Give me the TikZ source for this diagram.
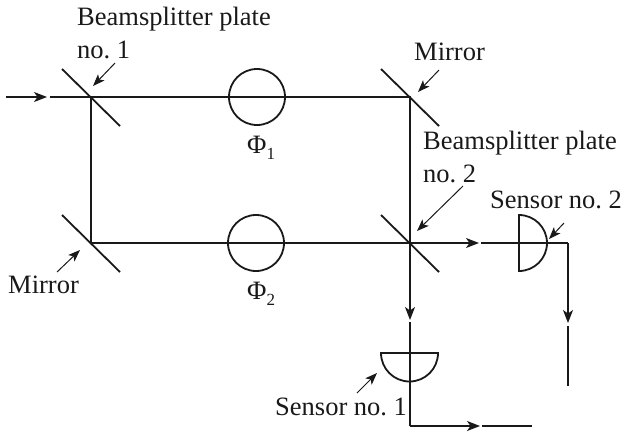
\documentclass[tikz,border=0pt]{standalone}
\usepackage{fontspec}
\setmainfont{Liberation Serif}
\usetikzlibrary{arrows.meta,calc}
\newcommand{\phisub}[1]{\raisebox{-6pt}{\fontsize{17}{18}\selectfont #1}}
\tikzset{
  beam/.style={line width=1.15pt,color=black!90},
  plate/.style={line width=1.8pt,color=black!90},
  beamtip/.style={-{Stealth[length=13pt,width=10pt,inset=3.5pt]}},
  leader/.style={line width=1pt,color=black!90,-{Stealth[length=12pt,width=9pt,inset=3pt]}},
  phase/.style={circle,draw,line width=1.8pt,color=black!90,minimum size=56pt,inner sep=0pt},
  lbl/.style={font=\fontsize{26.5}{28}\selectfont\frenchspacing,inner sep=0pt,anchor=base west,color=black!90}
}
\begin{document}
\begin{tikzpicture}[x=1pt,y=-1pt]
\useasboundingbox (0,0) rectangle (624,432);
% junctions of the two arms
\coordinate (bs1) at (91,97);
\coordinate (m1) at (410,97);
\coordinate (m2) at (91,243);
\coordinate (bs2) at (410,243);
\node[phase] (ph1) at (257,97) {};
\node[phase] (ph2) at (256,243) {};
% input
\coordinate (in0) at (6,97);
\coordinate (in1) at (47,97);
\coordinate (in2) at (50,97);
\draw[beam,beamtip] (in0) -- (in1);
\draw[beam] (in2) -- (bs1) -- (m1) -- (bs2);
\draw[beam] (bs1) -- (m2) -- (bs2);
% plates
\foreach \p in {bs1,m1,m2,bs2}
  \draw[plate] ($(\p)+(-29,-28)$) -- ($(\p)+(29,29)$);
% output to sensor no. 2
\coordinate (o1) at (479,243);
\coordinate (o2) at (481,243);
\coordinate (o3) at (568,243);
\coordinate (o4) at (568,323);
\coordinate (o5) at (568,326);
\coordinate (o6) at (568,386);
\draw[beam,beamtip] (bs2) -- (o1);
\draw[beam] (o2) -- (o3);
\draw[beam,beamtip] (o3) -- (o4);
\draw[beam] (o5) -- (o6);
% output to sensor no. 1
\coordinate (d1) at (410,320);
\coordinate (d2) at (410,322);
\coordinate (d3) at (410,426);
\coordinate (d4) at (480,426);
\coordinate (d5) at (482,426);
\coordinate (d6) at (532,426);
\draw[beam,beamtip] (bs2) -- (d1);
\draw[beam] (d2) -- (d3);
\draw[beam,beamtip] (d3) -- (d4);
\draw[beam] (d5) -- (d6);
% sensors
\coordinate (s2) at (519,215);
\coordinate (s1) at (381,353);
\draw[plate] (s2) arc[start angle=90,end angle=-90,radius=28pt] -- cycle;
\draw[plate] (s1) arc[start angle=180,end angle=360,radius=28.5pt] -- cycle;
% labels
\node[lbl] (tbs1) at (77,25) {Beamsplitter plate};
\node[lbl] (tno1) at (77,58) {no. 1};
\node[lbl] (tm1) at (414,60) {Mirror};
\node[lbl] (tbs2) at (423,149) {Beamsplitter plate};
\node[lbl] (tno2) at (423,182) {no. 2};
\node[lbl] (ts2) at (490,208) {Sensor no. 2};
\node[lbl] (ts1) at (275,415) {Sensor no. 1};
\node[lbl] (tm2) at (8,293) {Mirror};
\node[lbl] (tp1) at (247,153) {Φ\phisub{1}};
\node[lbl] (tp2) at (247,299) {Φ\phisub{2}};
% leaders
\coordinate (a1) at (115,63);
\coordinate (a2) at (93,86);
\coordinate (b1) at (439,70);
\coordinate (b2) at (418,92);
\coordinate (c1) at (463,186);
\coordinate (c2) at (417,231);
\coordinate (e1) at (564,223);
\coordinate (e2) at (549,239);
\coordinate (f1) at (357,393);
\coordinate (f2) at (377,373);
\coordinate (g1) at (57,272);
\coordinate (g2) at (80,250);
\draw[leader] (a1) -- (a2);
\draw[leader] (b1) -- (b2);
\draw[leader] (c1) -- (c2);
\draw[leader] (e1) -- (e2);
\draw[leader] (f1) -- (f2);
\draw[leader] (g1) -- (g2);
\end{tikzpicture}
\end{document}
